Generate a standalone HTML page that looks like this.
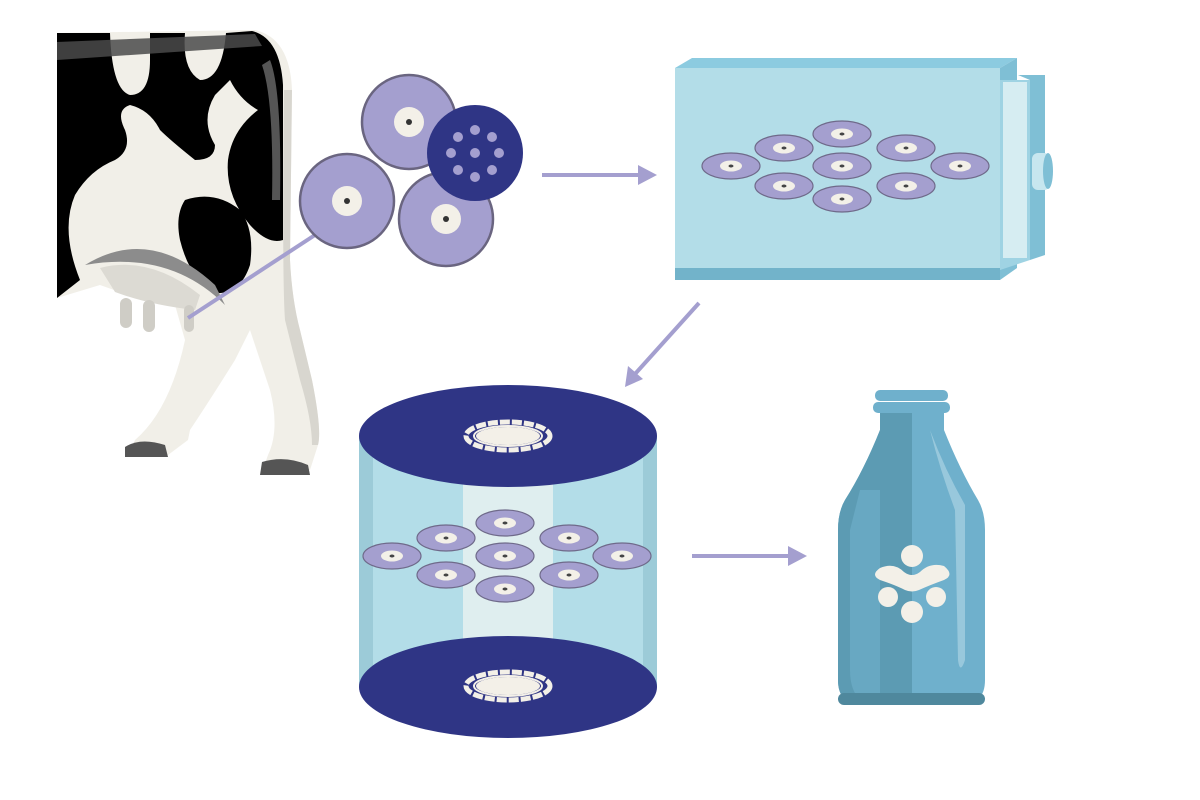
<!DOCTYPE html>
<html><head><meta charset="utf-8"><style>html,body{margin:0;padding:0;background:#fff;width:1200px;height:800px;overflow:hidden}</style></head>
<body>
<svg width="1200" height="800" viewBox="0 0 1200 800" xmlns="http://www.w3.org/2000/svg">
<defs>
<g id="sc"><ellipse rx="29" ry="13" fill="#a49fcf" stroke="#6f6a8a" stroke-width="1.2"/><ellipse rx="11" ry="5.5" fill="#f3f0e8"/><ellipse rx="2.5" ry="1.5" fill="#444"/></g>
<g id="bc"><circle r="47" fill="#a49fcf" stroke="#6a6580" stroke-width="2.5"/><circle r="15" fill="#f3f0e8"/><circle r="3" fill="#333"/></g>
</defs>
<!-- cow -->
<path d="M57,33 L255,30 Q290,38 292,90 L290,260 Q292,300 300,330 L312,380 Q322,430 318,445 L310,470 L262,472 L268,455 Q280,430 270,390 L250,330 L235,360 Q210,400 190,430 L188,440 L168,455 L128,456 L135,440 Q170,410 185,340 L175,305 Q140,300 100,285 L57,298 Z" fill="#f1efe8"/>
<path d="M292,90 L290,260 Q292,300 300,330 L312,380 Q322,430 318,445 L312,445 Q312,420 300,380 L285,320 Q282,280 284,90 Z" fill="#d8d6cf"/>
<path d="M57,33 L110,33 Q112,90 130,95 Q150,95 150,60 L150,33 L185,33 Q182,70 200,80 Q222,80 226,33 L252,31 Q280,38 283,85 L283,240 Q268,245 250,225 Q225,195 228,160 Q232,130 258,110 Q240,100 230,80 L215,95 Q200,120 215,145 Q215,160 195,160 Q170,140 160,130 Q150,110 130,105 Q115,110 125,130 Q132,150 115,160 Q90,170 75,195 Q60,230 80,280 L57,298 Z" fill="#000"/>
<path d="M185,200 Q215,190 240,210 Q255,230 250,265 Q240,295 215,293 Q190,280 180,240 Q175,215 185,200 Z" fill="#000"/>
<path d="M57,42 L255,34 L262,46 L57,60 Z" fill="#4a4a4a" opacity=".85"/>
<path d="M270,60 Q282,90 280,200 L272,200 Q274,100 262,65 Z" fill="#555"/>
<path d="M85,265 Q150,225 215,285 L225,305 Q170,250 85,265 Z" fill="#8c8c8c"/>
<path d="M100,268 Q150,255 200,295 L195,310 Q150,305 115,292 Z" fill="#dcdad3"/>
<rect x="120" y="298" width="12" height="30" rx="6" fill="#cfcdc6"/>
<rect x="143" y="300" width="12" height="32" rx="6" fill="#cfcdc6"/>
<rect x="184" y="305" width="10" height="27" rx="5" fill="#cfcdc6"/>
<path d="M125,447 Q140,437 165,445 L168,457 L125,457 Z" fill="#555"/>
<path d="M262,462 Q285,455 308,465 L310,475 L260,475 Z" fill="#555"/>
<line x1="188" y1="318" x2="315" y2="235" stroke="#a49fcf" stroke-width="4"/>
<!-- cells -->
<use href="#bc" x="409" y="122"/>
<use href="#bc" x="347" y="201"/>
<use href="#bc" x="446" y="219"/>
<circle cx="475" cy="153" r="48" fill="#2f3585"/>
<g fill="#a49fcf"><circle cx="475" cy="130" r="5"/><circle cx="458" cy="137" r="5"/><circle cx="492" cy="137" r="5"/><circle cx="451" cy="153" r="5"/><circle cx="475" cy="153" r="5"/><circle cx="499" cy="153" r="5"/><circle cx="458" cy="170" r="5"/><circle cx="492" cy="170" r="5"/><circle cx="475" cy="177" r="5"/></g>
<!-- arrows -->
<g stroke="#a49fcf" stroke-width="4" fill="#a49fcf">
<line x1="542" y1="175" x2="640" y2="175"/><path d="M638,165 L657,175 L638,185 Z" stroke="none"/>
<line x1="699" y1="303" x2="635" y2="374"/><path d="M625,387 L628,366 L643,379 Z" stroke="none"/>
<line x1="692" y1="556" x2="790" y2="556"/><path d="M788,546 L807,556 L788,566 Z" stroke="none"/>
</g>
<!-- box -->
<path d="M675,68 L692,58 L1017,58 L1000,68 Z" fill="#8ccbe0"/>
<path d="M1000,68 L1017,58 L1017,268 L1000,280 Z" fill="#7fbfd5"/>
<rect x="675" y="68" width="325" height="212" fill="#b3dde8"/>
<rect x="675" y="268" width="325" height="12" fill="#72b3ca"/>
<path d="M1000,80 L1030,80 L1030,260 L1000,270 Z" fill="#9fd3e3"/>
<rect x="1003" y="82" width="24" height="176" fill="#d6edf2"/>
<path d="M1018,75 L1045,75 L1045,255 L1030,260 L1030,80 Z" fill="#7fbfd5"/>
<rect x="1032" y="153" width="18" height="37" rx="6" fill="#c7e6ef"/>
<ellipse cx="1048" cy="171" rx="5" ry="18" fill="#7fbfd5"/>
<use href="#sc" x="731" y="166"/><use href="#sc" x="784" y="148"/><use href="#sc" x="784" y="186"/><use href="#sc" x="842" y="134"/><use href="#sc" x="842" y="166"/><use href="#sc" x="842" y="199"/><use href="#sc" x="906" y="148"/><use href="#sc" x="906" y="186"/><use href="#sc" x="960" y="166"/>
<!-- cylinder -->
<rect x="359" y="436" width="298" height="251" fill="#b3dde8"/>
<rect x="359" y="436" width="14" height="251" fill="#9ccbd8"/>
<rect x="643" y="436" width="14" height="251" fill="#9ccbd8"/>
<rect x="463" y="436" width="90" height="251" fill="#dfeeef"/>
<ellipse cx="508" cy="436" rx="149" ry="51" fill="#2f3585"/>
<ellipse cx="508" cy="687" rx="149" ry="51" fill="#2f3585"/>
<g fill="none" stroke="#f3f0e8">
<ellipse cx="508" cy="436" rx="42" ry="14" stroke-width="5" stroke-dasharray="10 2"/><ellipse cx="508" cy="436" rx="34" ry="10" stroke-width="2"/>
<ellipse cx="508" cy="686" rx="42" ry="14" stroke-width="5" stroke-dasharray="10 2"/><ellipse cx="508" cy="686" rx="34" ry="10" stroke-width="2"/>
</g>
<ellipse cx="508" cy="436" rx="32" ry="9" fill="#f3f0e8"/><ellipse cx="508" cy="686" rx="32" ry="9" fill="#f3f0e8"/>
<use href="#sc" x="392" y="556"/><use href="#sc" x="446" y="538"/><use href="#sc" x="446" y="575"/><use href="#sc" x="505" y="523"/><use href="#sc" x="505" y="556"/><use href="#sc" x="505" y="589"/><use href="#sc" x="569" y="538"/><use href="#sc" x="569" y="575"/><use href="#sc" x="622" y="556"/>
<!-- bottle -->
<path d="M880,412 L944,412 L944,430 Q960,470 978,500 Q985,512 985,530 L985,680 Q985,705 960,705 L863,705 Q838,705 838,680 L838,530 Q838,512 845,500 Q864,470 880,430 Z" fill="#6fb0cc"/>
<path d="M880,412 L912,412 L912,705 L863,705 Q838,705 838,680 L838,530 Q838,512 845,500 Q864,470 880,430 Z" fill="#5c9bb3"/>
<path d="M860,490 L880,490 L880,700 L860,700 Q850,690 850,670 L850,530 Z" fill="#6fb0cc" opacity=".6"/>
<path d="M930,430 Q945,470 965,505 L965,660 Q960,675 958,660 L955,510 Q940,470 930,430 Z" fill="#a9d3e2" opacity=".7"/>
<rect x="875" y="390" width="73" height="11" rx="5" fill="#6fb0cc"/>
<rect x="873" y="402" width="77" height="11" rx="5" fill="#6fb0cc"/>
<rect x="838" y="693" width="147" height="12" rx="6" fill="#4f889d"/>
<g fill="#f3f0e8">
<circle cx="912" cy="556" r="11"/><circle cx="888" cy="597" r="10"/><circle cx="936" cy="597" r="10"/><circle cx="912" cy="612" r="11"/>
<path d="M880,568 Q870,575 880,580 Q895,585 905,590 Q912,593 919,590 Q930,585 944,580 Q955,575 944,566 Q930,562 920,572 Q912,578 904,572 Q894,562 880,568 Z"/>
</g>
</svg>
</body></html>
